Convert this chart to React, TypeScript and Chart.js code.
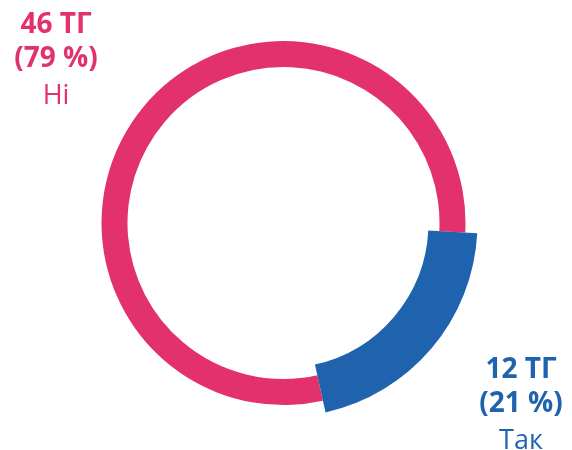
import React, { useEffect, useRef } from "react";
import { Chart, registerables } from "chart.js";

Chart.register(...registerables);

const categories = ["Ні", "Так"];
const values = [46, 12];
const unit = "ТГ";
const colors = ["#E2316C", "#1F63AF"];

// ring geometry (px): [inner, outer] per slice
const ringRadii = [
  [156, 182],
  [145, 194],
];
// label anchors (center x, baselines)
const labelPos = [
  { x: 56, y: [33, 67, 104] },
  { x: 521, y: [378, 412, 449] },
];

const radiusPlugin = {
  id: "customRadii",
  afterDatasetsUpdate(chart: any) {
    const meta = chart.getDatasetMeta(0);
    meta.data.forEach((arc: any, i: number) => {
      arc.innerRadius = ringRadii[i][0];
      arc.outerRadius = ringRadii[i][1];
    });
  },
};

const labelPlugin = {
  id: "sliceLabels",
  afterDraw(chart: any) {
    const ctx = chart.ctx;
    const total = values.reduce((a, b) => a + b, 0);
    ctx.save();
    ctx.textAlign = "center";
    ctx.textBaseline = "alphabetic";
    categories.forEach((cat, i) => {
      const p = labelPos[i];
      const pct = Math.round((values[i] / total) * 100);
      ctx.fillStyle = colors[i];
      ctx.font = "bold 28px 'Open Sans'";
      ctx.fillText(`${values[i]} ${unit}`, p.x, p.y[0]);
      ctx.fillText(`(${pct} %)`, p.x, p.y[1]);
      ctx.font = "27px 'Open Sans'";
      ctx.fillText(cat, p.x, p.y[2]);
    });
    ctx.restore();
  },
};

export default function App() {
  const ref = useRef<HTMLCanvasElement>(null);
  useEffect(() => {
    const total = values.reduce((a, b) => a + b, 0);
    const blueShare = (values[1] / total) * 360;
    const chart = new Chart(ref.current!, {
      type: "doughnut",
      data: {
        labels: categories,
        datasets: [
          {
            data: values,
            backgroundColor: colors,
            borderWidth: 0,
            hoverOffset: 0,
          },
        ],
      },
      options: {
        animation: false,
        responsive: true,
        maintainAspectRatio: false,
        rotation: 93 - (360 - blueShare),
        layout: { padding: { left: 0, right: 5, top: 0, bottom: 4 } },
        plugins: {
          legend: { display: false },
          tooltip: { enabled: false },
        },
      },
      plugins: [radiusPlugin, labelPlugin],
    });
    return () => chart.destroy();
  }, []);
  return (
    <div style={{ position: "absolute", left: 0, top: 0, width: 572, height: 450, background: "#fff" }}>
      <canvas ref={ref} />
    </div>
  );
}
